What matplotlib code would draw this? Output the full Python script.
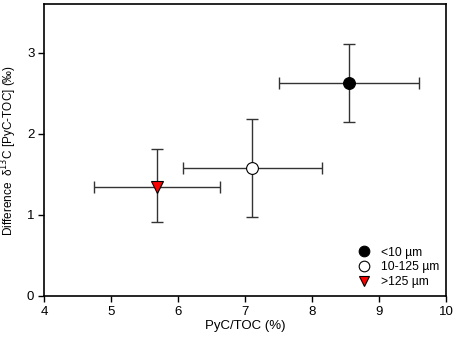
import matplotlib
matplotlib.use("Agg")
import matplotlib.pyplot as plt

plt.rcParams["font.family"] = ["Liberation Sans", "DejaVu Sans"]

# 数据
labels = ["<10 µm", "10-125 µm", ">125 µm"]
pyc_toc = [8.55, 7.10, 5.68]
pyc_toc_lo = [7.50, 6.07, 4.74]
pyc_toc_hi = [9.60, 8.15, 6.62]
diff = [2.63, 1.58, 1.35]
diff_lo = [2.15, 0.98, 0.91]
diff_hi = [3.11, 2.18, 1.81]

markers = ["o", "o", "v"]
faces = ["black", "white", "red"]

fig = plt.figure(figsize=(4.59, 3.47), dpi=100)
ax = fig.add_axes([0.096, 0.147, 0.876, 0.841])

for i in range(len(labels)):
    xe = [[pyc_toc[i] - pyc_toc_lo[i]], [pyc_toc_hi[i] - pyc_toc[i]]]
    ye = [[diff[i] - diff_lo[i]], [diff_hi[i] - diff[i]]]
    ax.errorbar(pyc_toc[i], diff[i], xerr=xe, yerr=ye, fmt="none",
                ecolor="#333333", elinewidth=1.0, capsize=4, capthick=1.0, zorder=2)
    ax.plot(pyc_toc[i], diff[i], marker=markers[i], ms=8.5 if markers[i] == "o" else 8,
            mfc=faces[i], mec="black", mew=0.8, ls="none", label=labels[i], zorder=3)

ax.set_xlim(4, 10)
ax.set_ylim(0, 3.6)
ax.set_xticks([4, 5, 6, 7, 8, 9, 10])
ax.set_yticks([0, 1, 2, 3])
ax.tick_params(direction="out", length=4, width=1, labelsize=9.5, pad=3)
for s in ax.spines.values():
    s.set_linewidth(1.2)

ax.set_xlabel("PyC/TOC (%)", fontsize=9.5, labelpad=2)
ax.set_ylabel("Difference  δ$^{13}$C [PyC-TOC] (‰)", fontsize=8.5, labelpad=6)

ax.legend(loc="lower right", frameon=False, fontsize=8.7, handletextpad=0.9,
          labelspacing=0.22, borderaxespad=0.5, handlelength=1.0, markerscale=0.9,
          bbox_to_anchor=(1.01, -0.01))

plt.savefig("out.png", dpi=100)
